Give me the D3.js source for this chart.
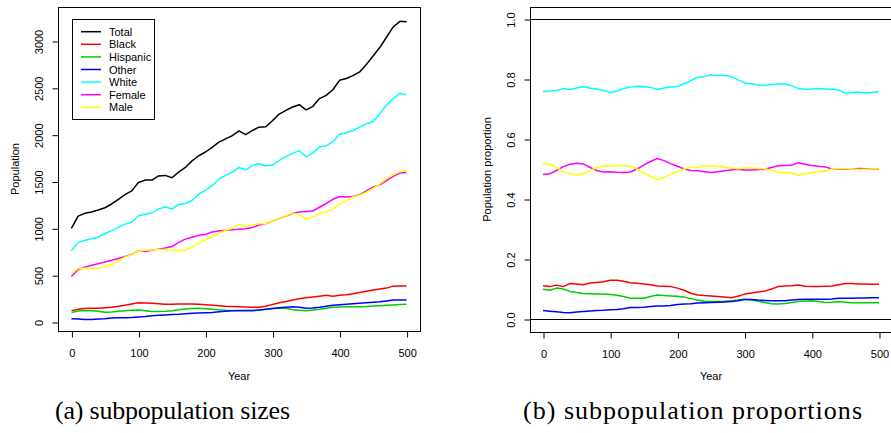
<!DOCTYPE html>
<html>
<head>
<meta charset="utf-8">
<script src="https://cdn.jsdelivr.net/npm/d3@7"></script>
<style>
  body { margin: 0; background: #fff; }
  svg { display: block; }
  text { font-family: "Liberation Sans", Arial, sans-serif; fill: #000; }
  .caption { font-family: "Liberation Serif", "DejaVu Serif", serif; font-size: 26px; }
</style>
</head>
<body>
<svg id="chart" width="891" height="433"></svg>
<script>
// years sampled every 10
const years = d3.range(0, 501, 10);

const xTicks = [0, 100, 200, 300, 400, 500];
const sizeTicks = [0, 500, 1000, 1500, 2000, 2500, 3000];
const propTicks = [0, 0.2, 0.4, 0.6, 0.8, 1.0];
const propTickLabels = ["0.0", "0.2", "0.4", "0.6", "0.8", "1.0"];

// (a) subpopulation sizes
const totalSize = [1000, 1130, 1160, 1175, 1195, 1220, 1260, 1310, 1360, 1400, 1490, 1515, 1515, 1560, 1565, 1540, 1600, 1650, 1720, 1775,
  1815, 1865, 1920, 1955, 1990, 2040, 2000, 2045, 2080, 2085, 2150, 2220, 2260, 2295, 2320, 2265, 2300, 2385, 2420, 2480,
  2580, 2600, 2630, 2670, 2750, 2840, 2930, 3040, 3150, 3210, 3205];
const blackSize = [120, 135, 145, 147, 147, 152, 158, 168, 180, 192, 205, 203, 200, 195, 190, 190, 192, 192, 193, 190,
  185, 179, 173, 168, 165, 163, 160, 158, 157, 168, 188, 205, 220, 235, 248, 258, 266, 275, 285, 275,
  285, 292, 302, 315, 328, 342, 352, 362, 383, 384, 385];
const hispanicSize = [100, 118, 122, 120, 115, 105, 108, 115, 120, 125, 127, 120, 112, 112, 115, 120, 130, 138, 145, 147,
  142, 136, 130, 125, 122, 121, 120, 121, 125, 135, 145, 147, 146, 132, 125, 121, 128, 136, 148, 157,
  160, 163, 163, 163, 165, 170, 174, 178, 182, 187, 190];
const otherSize = [35, 32, 28, 28, 32, 36, 42, 46, 46, 48, 54, 58, 66, 72, 76, 80, 83, 88, 93, 96,
  99, 102, 110, 116, 121, 122, 122, 122, 128, 135, 145, 153, 158, 163, 158, 147, 150, 157, 168, 178,
  184, 190, 194, 199, 205, 210, 215, 224, 234, 236, 235];
const whiteSize = [760, 850, 870, 890, 905, 945, 975, 1010, 1045, 1065, 1135, 1150, 1165, 1205, 1230, 1205, 1255, 1265, 1300, 1365,
  1405, 1455, 1525, 1565, 1600, 1650, 1625, 1670, 1690, 1665, 1675, 1725, 1765, 1800, 1830, 1765, 1800, 1870, 1880, 1925,
  2005, 2020, 2045, 2080, 2115, 2140, 2225, 2315, 2385, 2440, 2425];
const femaleSize = [485, 560, 585, 605, 622, 640, 660, 678, 700, 720, 762, 752, 765, 778, 790, 805, 850, 885, 905, 925,
  935, 962, 972, 980, 985, 990, 995, 1010, 1035, 1050, 1075, 1105, 1130, 1160, 1175, 1180, 1185, 1225, 1265, 1310,
  1340, 1335, 1340, 1360, 1400, 1440, 1465, 1510, 1555, 1590, 1595];
const maleSize = [520, 572, 575, 572, 575, 590, 612, 650, 695, 718, 758, 765, 770, 775, 775, 770, 760, 768, 800, 845,
  875, 915, 945, 980, 1000, 1045, 1020, 1035, 1050, 1050, 1075, 1105, 1135, 1165, 1145, 1100, 1120, 1160, 1175, 1205,
  1260, 1290, 1335, 1355, 1385, 1425, 1475, 1530, 1570, 1605, 1615];

// (b) subpopulation proportions
const whiteProp = [.758, .760, .762, .768, .765, .770, .775, .769, .767, .762, .755, .760, .768, .773, .776, .775, .772, .765, .770, .773,
  .775, .784, .795, .805, .808, .814, .812, .812, .808, .797, .787, .784, .780, .778, .782, .783, .783, .778, .768, .766,
  .767, .768, .767, .766, .763, .752, .755, .757, .753, .755, .758];
const blackProp = [.111, .108, .113, .108, .118, .117, .114, .120, .122, .124, .129, .129, .126, .121, .119, .117, .114, .110, .109, .108,
  .103, .096, .086, .080, .078, .077, .075, .073, .071, .076, .083, .087, .090, .093, .100, .108, .110, .111, .113, .109,
  .108, .108, .109, .110, .114, .118, .118, .117, .117, .116, .116];
const hispanicProp = [.099, .096, .103, .100, .092, .088, .085, .084, .083, .083, .082, .079, .075, .069, .069, .069, .075, .080, .078, .077,
  .076, .073, .068, .063, .059, .058, .058, .059, .061, .063, .066, .063, .059, .055, .051, .050, .052, .055, .058, .060,
  .061, .058, .055, .056, .058, .056, .054, .054, .054, .054, .054];
const otherProp = [.028, .026, .024, .022, .021, .023, .025, .027, .028, .029, .031, .032, .034, .038, .038, .039, .042, .043, .043, .045,
  .048, .050, .051, .053, .054, .055, .056, .057, .058, .061, .065, .065, .063, .062, .061, .061, .061, .063, .065, .066,
  .066, .066, .066, .067, .069, .069, .069, .070, .070, .071, .071];
const femaleProp = [.482, .484, .495, .508, .516, .519, .517, .505, .495, .490, .491, .489, .488, .490, .500, .513, .525, .535, .528, .518,
  .509, .500, .495, .494, .491, .488, .491, .494, .497, .499, .497, .497, .498, .499, .505, .511, .512, .513, .521, .516,
  .512, .509, .507, .500, .499, .499, .500, .502, .501, .500, .499];
const maleProp = [.518, .516, .505, .492, .484, .481, .483, .495, .505, .510, .509, .511, .512, .510, .500, .487, .475, .465, .472, .482,
  .491, .500, .505, .506, .509, .512, .509, .506, .503, .501, .503, .503, .502, .501, .495, .489, .488, .487, .479, .484,
  .488, .491, .493, .500, .501, .501, .500, .498, .499, .500, .501];

const legendNames = ["Total", "Black", "Hispanic", "Other", "White", "Female", "Male"];
const colors = {
  Total: "#000000", Black: "#ff0000", Hispanic: "#00cd00", Other: "#0000ff",
  White: "#00ffff", Female: "#ff00ff", Male: "#ffff00"
};

const svg = d3.select("#chart");

// one R-style panel: box, ticks, rotated y labels
function drawPanel(opt) {
  const g = svg.append("g");
  const x = d3.scaleLinear().domain(opt.xDomain).range([opt.left, opt.right]);
  const y = d3.scaleLinear().domain(opt.yDomain).range([opt.bottom, opt.top]);

  // reference lines (abline) drawn under the data
  (opt.hlines || []).forEach(v => {
    g.append("line")
      .attr("x1", opt.left).attr("x2", opt.right)
      .attr("y1", Math.round(y(v)) + 0.5).attr("y2", Math.round(y(v)) + 0.5)
      .attr("stroke", "#000").attr("stroke-width", 1);
  });

  const line = d3.line().x((d, i) => x(years[i])).y(d => y(d));
  opt.series.forEach(s => {
    g.append("path")
      .datum(s.values)
      .attr("fill", "none")
      .attr("stroke", colors[s.name])
      .attr("stroke-width", 1.5)
      .attr("stroke-linejoin", "round")
      .attr("d", line);
  });

  // box
  g.append("rect")
    .attr("x", opt.left + 0.5).attr("y", opt.top + 0.5)
    .attr("width", opt.right - opt.left).attr("height", opt.bottom - opt.top)
    .attr("fill", "none").attr("stroke", "#000").attr("stroke-width", 1);

  // x axis
  const xAxis = g.append("g")
    .attr("transform", `translate(0.5,${opt.bottom + 0.5})`)
    .call(d3.axisBottom(x).tickValues(xTicks).tickSize(6).tickSizeOuter(0));
  xAxis.select(".domain").remove();
  xAxis.selectAll(".tick text").attr("y", 0).attr("dy", 25).style("font-size", "11px");

  // y axis, labels turned like R's las=0
  const yAxis = g.append("g")
    .attr("transform", `translate(${opt.left + 0.5},0.5)`)
    .call(d3.axisLeft(y).tickValues(opt.yTicks).tickSize(6).tickSizeOuter(0)
      .tickFormat((d, i) => opt.yLabels ? opt.yLabels[i] : d));
  yAxis.select(".domain").remove();
  yAxis.selectAll(".tick text")
    .attr("x", 0).attr("dy", null).attr("y", -16)
    .attr("text-anchor", "middle")
    .attr("transform", "rotate(-90)")
    .style("font-size", "11px");

  g.append("text")
    .attr("x", (opt.left + opt.right) / 2).attr("y", 380)
    .attr("text-anchor", "middle").style("font-size", "11px")
    .text("Year");
  g.append("text")
    .attr("transform", `translate(${opt.left - 39},${(opt.top + opt.bottom) / 2}) rotate(-90)`)
    .attr("text-anchor", "middle").style("font-size", "11px")
    .text(opt.yTitle);

  return g;
}

const sizes = { Total: totalSize, Black: blackSize, Hispanic: hispanicSize, Other: otherSize,
  White: whiteSize, Female: femaleSize, Male: maleSize };
const props = { Black: blackProp, Hispanic: hispanicProp, Other: otherProp,
  White: whiteProp, Female: femaleProp, Male: maleProp };

const left = drawPanel({
  left: 58, right: 420, top: 7, bottom: 331,
  xDomain: [-20, 520], yDomain: [-96, 3363],
  yTicks: sizeTicks, yTitle: "Population",
  series: legendNames.map(n => ({ name: n, values: sizes[n] }))
});

drawPanel({
  left: 530, right: 892, top: 7, bottom: 332,
  xDomain: [-19.35, 519.35], yDomain: [-0.0433, 1.04],
  yTicks: propTicks, yLabels: propTickLabels, yTitle: "Population proportion",
  hlines: [0, 1],
  series: legendNames.filter(n => n !== "Total").map(n => ({ name: n, values: props[n] }))
});

// legend in panel (a)
const legend = left.append("g");
legend.append("rect")
  .attr("x", 72.5).attr("y", 19.5).attr("width", 82).attr("height", 100)
  .attr("fill", "#fff").attr("stroke", "#000");
legendNames.forEach((n, i) => {
  const cy = 31.7 + i * 12.6;
  legend.append("line")
    .attr("x1", 81).attr("x2", 101).attr("y1", cy).attr("y2", cy)
    .attr("stroke", colors[n]).attr("stroke-width", 1.5);
  legend.append("text")
    .attr("x", 109).attr("y", cy + 4)
    .style("font-size", "11px")
    .text(n);
});

// captions (Computer Modern in the source is wider, so adjust the spacing a little)
svg.append("text").attr("class", "caption")
  .attr("x", 55).attr("y", 419)
  .attr("textLength", 235).attr("lengthAdjust", "spacing")
  .text("(a) subpopulation sizes");
svg.append("text").attr("class", "caption")
  .attr("x", 523).attr("y", 419)
  .attr("textLength", 339).attr("lengthAdjust", "spacing")
  .text("(b) subpopulation proportions");
</script>
</body>
</html>
